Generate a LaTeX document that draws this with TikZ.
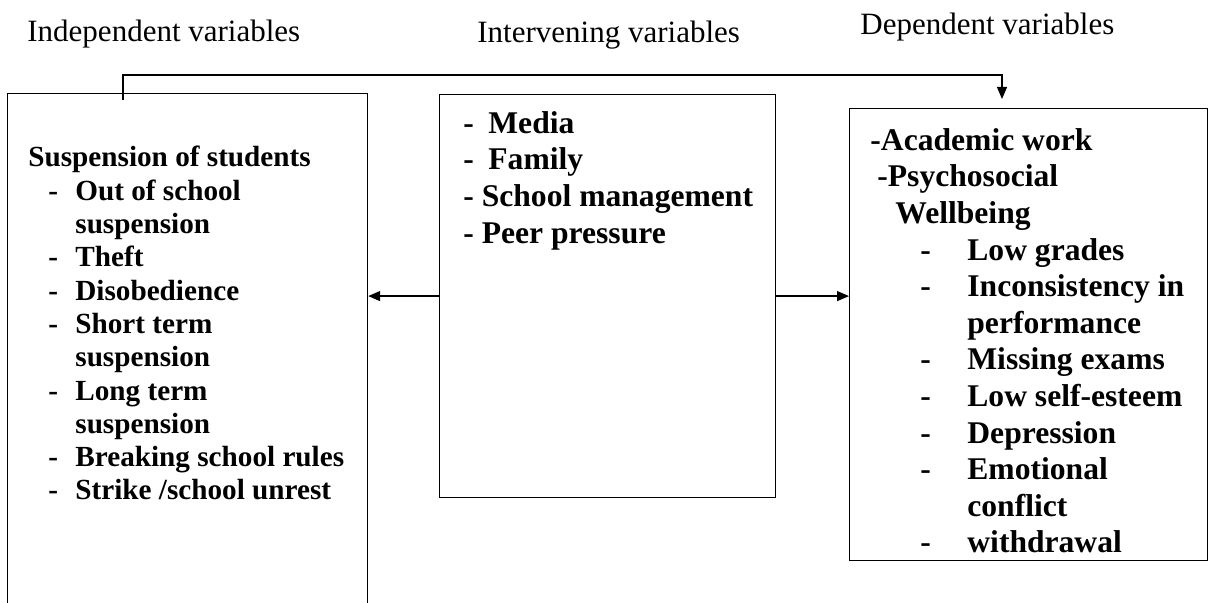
\documentclass[tikz,border=0pt]{standalone}
\usepackage{fontspec}
\setmainfont{Liberation Serif}
\usetikzlibrary{arrows.meta}
\newcommand{\dashitem}[3]{\hspace*{#1}\makebox[#2][l]{-}#3}

\begin{document}
\begin{tikzpicture}[x=0.5pt,y=-0.5pt,
    box/.style={draw, line width=0.6pt, anchor=north west, inner sep=0pt},
    heading/.style={anchor=base west, inner sep=0pt, font=\fontsize{15.5}{18}\selectfont},
    listtext/.style={anchor=north west, inner sep=0pt, align=left, font=\bfseries\fontsize{15.8}{18.3}\selectfont},
    tip/.style={-{Triangle[length=6pt,width=5pt]}, line width=0.6pt}]
  \useasboundingbox (0,0) rectangle (1209,603);

  % headings
  \node[heading] (hindep) at (27,42) {Independent variables};
  \node[heading] (hinter) at (477,43) {Intervening variables};
  \node[heading] (hdep) at (860,35) {Dependent variables};

  % boxes
  \node[box, minimum width=180pt, minimum height=300pt] (indep) at (7,93) {};
  \node[box, minimum width=168pt, minimum height=201.5pt] (mid) at (439,94) {};
  \node[box, minimum width=179pt, minimum height=226pt] (dep) at (849,108) {};

  % box contents
  \node[listtext, font=\bfseries\fontsize{14.6}{16.65}\selectfont] (indeplist) at (28,146)
    {Suspension of students\\
     \dashitem{10pt}{13.5pt}{Out of school}\\
     \hspace*{23.5pt}suspension\\
     \dashitem{10pt}{13.5pt}{Theft}\\
     \dashitem{10pt}{13.5pt}{Disobedience}\\
     \dashitem{10pt}{13.5pt}{Short term}\\
     \hspace*{23.5pt}suspension\\
     \dashitem{10pt}{13.5pt}{Long term}\\
     \hspace*{23.5pt}suspension\\
     \dashitem{10pt}{13.5pt}{Breaking school rules}\\
     \dashitem{10pt}{13.5pt}{Strike /school unrest}};
  \node[listtext] (midlist) at (463,111)
    {\dashitem{0pt}{12.5pt}{Media}\\
     \dashitem{0pt}{12.5pt}{Family}\\
     - School management\\
     - Peer pressure};
  \node[listtext] (deplist) at (870,128)
    {-Academic work\\
     \hspace*{3.5pt}-Psychosocial\\
     \hspace*{12.5pt}Wellbeing\\
     \dashitem{25pt}{23.5pt}{Low grades}\\
     \dashitem{25pt}{23.5pt}{Inconsistency in}\\
     \hspace*{48.5pt}performance\\
     \dashitem{25pt}{23.5pt}{Missing exams}\\
     \dashitem{25pt}{23.5pt}{Low self-esteem}\\
     \dashitem{25pt}{23.5pt}{Depression}\\
     \dashitem{25pt}{23.5pt}{Emotional}\\
     \hspace*{48.5pt}conflict\\
     \dashitem{25pt}{23.5pt}{withdrawal}};

  % connectors
  \draw[tip] (mid.west) -- (mid.west -| indep.east);
  \draw[tip] (mid.east) -- (mid.east -| dep.west);
  \coordinate (tap) at (123,100);
  \coordinate (drop) at (1002,99);
  \draw[tip] (tap) -- ++(0,-25) -| (drop);
\end{tikzpicture}
\end{document}
